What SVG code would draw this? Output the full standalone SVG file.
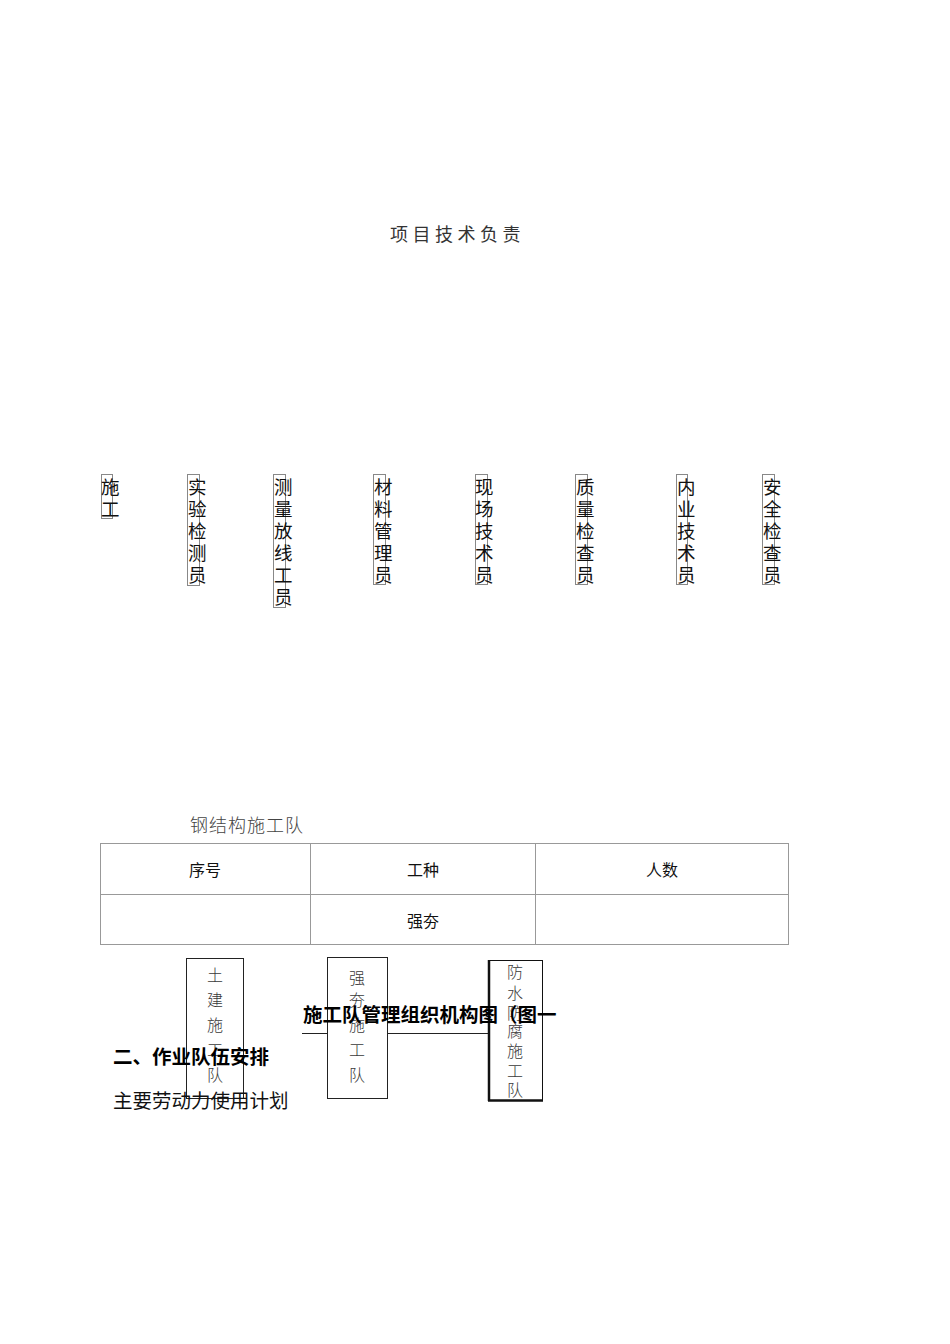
<svg xmlns="http://www.w3.org/2000/svg" width="950" height="1344" viewBox="0 0 950 1344">
<style>
.cjk{font-family:"Noto Sans CJK SC","Noto Sans",sans-serif;}
.col{font-size:18.5px;fill:#111;}
.colbox{fill:none;stroke:#888;stroke-width:1;}
.cell{fill:none;stroke:#999;stroke-width:1;}
.th{font-size:16px;fill:#111;text-anchor:middle;}
.team{font-size:16px;fill:#3a3a3a;text-anchor:middle;font-weight:300;}
.tbox{fill:none;stroke:#222;stroke-width:1;}
.bold{font-weight:700;fill:#000;}
.ln{stroke:#222;stroke-width:1;fill:none;}
</style>
<rect width="950" height="1344" fill="#fff"/>

<g id="title-top">
<text class="cjk" x="390" y="241" font-size="18" fill="#333" letter-spacing="4.5">项目技术负责</text>
</g>

<g id="n-shigong">
<rect class="colbox" x="101.5" y="474.5" width="11" height="44"/>
<text class="cjk col" x="101" y="494">施</text>
<text class="cjk col" x="101" y="516">工</text>
</g>
<g id="n-shiyan">
<rect class="colbox" x="187.5" y="474.5" width="12" height="111"/>
<text class="cjk col" x="188" y="494">实</text>
<text class="cjk col" x="188" y="516">验</text>
<text class="cjk col" x="188" y="538">检</text>
<text class="cjk col" x="188" y="560">测</text>
<text class="cjk col" x="188" y="582">员</text>
</g>
<g id="n-celiang">
<rect class="colbox" x="273.5" y="474.5" width="12" height="133"/>
<text class="cjk col" x="274" y="494">测</text>
<text class="cjk col" x="274" y="516">量</text>
<text class="cjk col" x="274" y="538">放</text>
<text class="cjk col" x="274" y="560">线</text>
<text class="cjk col" x="274" y="582">工</text>
<text class="cjk col" x="274" y="604">员</text>
</g>
<g id="n-cailiao">
<rect class="colbox" x="373.5" y="474.5" width="12" height="110"/>
<text class="cjk col" x="374" y="494">材</text>
<text class="cjk col" x="374" y="516">料</text>
<text class="cjk col" x="374" y="538">管</text>
<text class="cjk col" x="374" y="560">理</text>
<text class="cjk col" x="374" y="582">员</text>
</g>
<g id="n-xianchang">
<rect class="colbox" x="475.5" y="474.5" width="12" height="110"/>
<text class="cjk col" x="475" y="494">现</text>
<text class="cjk col" x="475" y="516">场</text>
<text class="cjk col" x="475" y="538">技</text>
<text class="cjk col" x="475" y="560">术</text>
<text class="cjk col" x="475" y="582">员</text>
</g>
<g id="n-zhiliang">
<rect class="colbox" x="575.5" y="474.5" width="12" height="110"/>
<text class="cjk col" x="576" y="494">质</text>
<text class="cjk col" x="576" y="516">量</text>
<text class="cjk col" x="576" y="538">检</text>
<text class="cjk col" x="576" y="560">查</text>
<text class="cjk col" x="576" y="582">员</text>
</g>
<g id="n-neiye">
<rect class="colbox" x="676.5" y="474.5" width="11" height="110"/>
<text class="cjk col" x="677" y="494">内</text>
<text class="cjk col" x="677" y="516">业</text>
<text class="cjk col" x="677" y="538">技</text>
<text class="cjk col" x="677" y="560">术</text>
<text class="cjk col" x="677" y="582">员</text>
</g>
<g id="n-anquan">
<rect class="colbox" x="762.5" y="474.5" width="12" height="110"/>
<text class="cjk col" x="763" y="494">安</text>
<text class="cjk col" x="763" y="516">全</text>
<text class="cjk col" x="763" y="538">检</text>
<text class="cjk col" x="763" y="560">查</text>
<text class="cjk col" x="763" y="582">员</text>
</g>

<g id="steel-team">
<text class="cjk" x="190" y="832" font-size="18" fill="#444" letter-spacing="1" font-weight="300">钢结构施工队</text>
</g>

<g id="table">
<rect class="cell" x="100.5" y="843.5" width="688" height="101"/>
<line class="cell" x1="100.5" y1="894.5" x2="788.5" y2="894.5"/>
<line class="cell" x1="310.5" y1="843.5" x2="310.5" y2="944.5"/>
<line class="cell" x1="535.5" y1="843.5" x2="535.5" y2="944.5"/>
<text class="cjk th" x="205" y="876">序号</text>
<text class="cjk th" x="423" y="876">工种</text>
<text class="cjk th" x="662" y="876">人数</text>
<text class="cjk th" x="423" y="927">强夯</text>
</g>

<g id="connectors">
<line class="ln" x1="302" y1="1033.5" x2="327" y2="1033.5"/>
<line class="ln" x1="388" y1="1033.5" x2="488" y2="1033.5"/>
</g>

<g id="n-tujian">
<rect class="tbox" x="186.5" y="958.5" width="57" height="140"/>
<text class="cjk team" x="215" y="981">土</text>
<text class="cjk team" x="215" y="1006">建</text>
<text class="cjk team" x="215" y="1031">施</text>
<text class="cjk team" x="215" y="1056">工</text>
<text class="cjk team" x="215" y="1081">队</text>
</g>
<g id="n-qianghang">
<rect class="tbox" x="327.5" y="957.5" width="60" height="141"/>
<text class="cjk team" x="357" y="984">强</text>
<text class="cjk team" x="357" y="1006">夯</text>
<text class="cjk team" x="357" y="1031">施</text>
<text class="cjk team" x="357" y="1056">工</text>
<text class="cjk team" x="357" y="1081">队</text>
</g>
<g id="n-fangshui">
<rect x="488.5" y="960.5" width="54" height="140" fill="none" stroke="#111" stroke-width="1"/>
<line x1="489" y1="960" x2="489" y2="1101" stroke="#111" stroke-width="2.5"/>
<line x1="488" y1="1100.5" x2="543" y2="1100.5" stroke="#111" stroke-width="2.5"/>
<text class="cjk team" x="515" y="978" font-size="17">防</text>
<text class="cjk team" x="515" y="999" font-size="17">水</text>
<text class="cjk team" x="515" y="1019" font-size="17">防</text>
<text class="cjk team" x="515" y="1037" font-size="17">腐</text>
<text class="cjk team" x="515" y="1057" font-size="17">施</text>
<text class="cjk team" x="515" y="1077" font-size="17">工</text>
<text class="cjk team" x="515" y="1096" font-size="17">队</text>
</g>

<g id="caption">
<text class="cjk bold" x="303" y="1022" font-size="19.5">施工队管理组织机构图（图一</text>
</g>
<g id="heading">
<text class="cjk bold" x="113" y="1064" font-size="19.5">二、作业队伍安排</text>
</g>
<g id="subheading">
<text class="cjk" x="113" y="1108" font-size="19.5" fill="#111">主要劳动力使用计划</text>
</g>
</svg>
